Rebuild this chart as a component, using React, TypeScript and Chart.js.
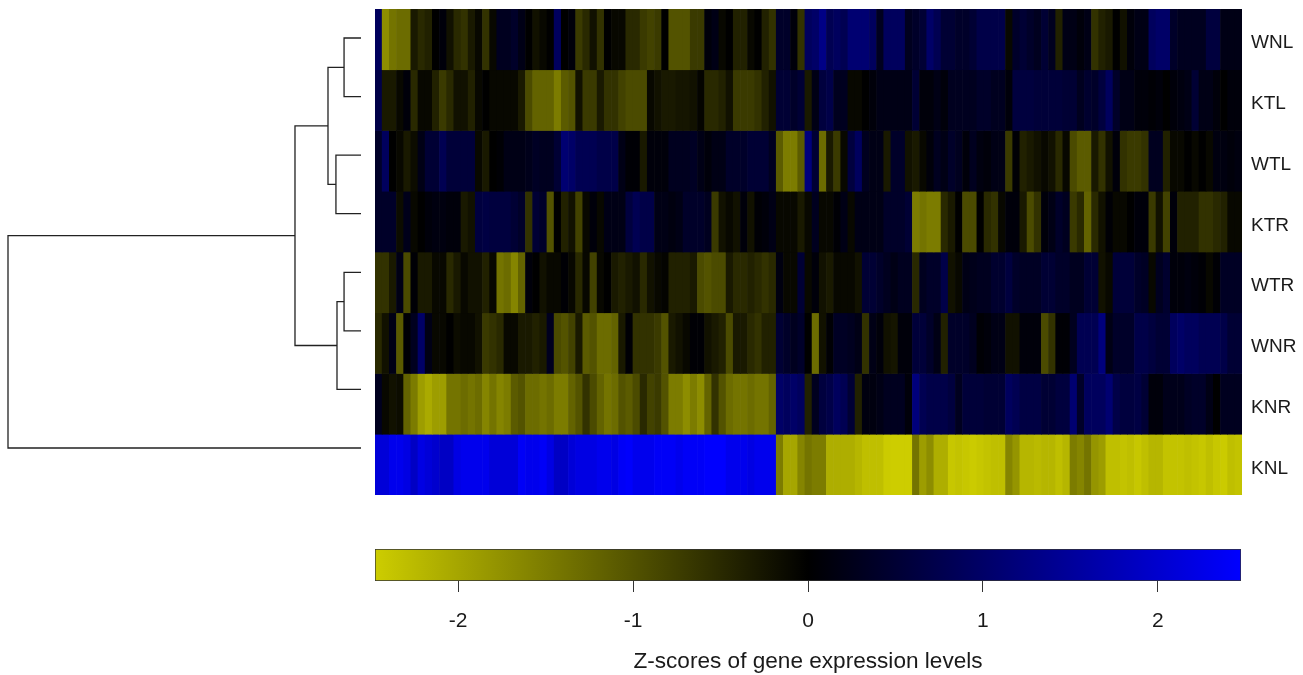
import React, { useEffect, useRef } from "react";
import { Chart, registerables } from "chart.js";

Chart.register(...registerables);

const sampleNames = ["WNL", "KTL", "WTL", "KTR", "WTR", "WNR", "KNR", "KNL"];

const WNL = [
  0.9,-1.7,-1.4,-1.3,-1.3,-0.3,-0.5,-0.4,0,0.1, -0.2,-0.5,-0.6,-0.3,-0.1,-0.6,-0.1,0.3,0.3,0.4,
  0.2,0,-0.2,-0.1,0,0.9,0,0.1,-0.7,-0.5, -0.2,-0.6,0,-0.1,-0.1,-0.5,-0.5,-0.7,-0.8,-0.7,
  0,-1,-1,-1,-0.7,-0.7,0.1,0.2,-0.1,0, -0.4,-0.4,-0.1,0,-0.4,-0.6,
  0.4,0.4,0.1,-0.6,0.9,1,1.3,0.8,0.9,0.8, 1.1,1.1,1.1,0.9,0.3,0.9,0.9,0.9,0.3,0.4,
  0.5,1,0.8,0.5,0.5,0.4,0.4,0.5,0.7,0.7, 0.7,0.7,-0.1,0.4,0.5,0.4,0.3,0.5,0.3,-0.4,
  0.2,0.2,0.1,0.2,-0.6,-0.4,-0.3,0,-0.2,0.1, 0.2,0.2,0.9,1,1,0.4,0.3,0.3,0.3,0.3,
  0.6,0.6,0.2,0.2,0.2,
];
const KTL = [
  0.7,-0.3,-0.3,-0.1,0.1,-0.5,-0.1,-0.1,-0.4,-0.7, -0.5,-0.2,-0.2,-0.4,-0.1,0,-0.1,-0.1,-0.1,-0.1,
  -0.3,-0.9,-1.2,-1.2,-1.2,-1.5,-1.1,-1,-0.2,-0.7, -0.7,-0.3,-0.6,-0.6,-0.8,-0.9,-0.9,-0.9,-0.1,-0.2,
  -0.3,-0.3,-0.25,-0.25,-0.2,-0.05,-0.5,-0.5,-0.4,-0.2, -0.7,-0.7,-0.7,-0.6,-0.4,-0.2,
  0.5,0.5,0.4,0.5,-0.3,0.2,0.6,0.7,0.3,0.3, -0.1,-0.1,0,0.1,0.2,0.2,0.2,0.2,0.2,0.5,
  0.1,0.1,0.2,0.1,0.3,0.3,0.3,0.3,0.4,0.4, 0.3,0.3,0.1,0.6,0.6,0.6,0.55,0.55,0.55,0.55,
  0.5,0.5,0.3,0.45,0.4,0.6,0.9,0.4,0.2,0.2, 0.1,0.1,0.05,0.1,0,0.1,0.15,0.2,0.5,0.2,
  0.2,0.1,0,0.1,0.1,
];
const WTL = [
  0.4,0.9,0,-0.1,-0.3,-0.15,0.2,0.5,0.5,0.8, 0.55,0.55,0.55,0.55,-0.1,-0.3,0,0.05,0.2,0.2,
  0.2,0.25,0.35,0.3,0.3,0.5,1.1,1,0.8,0.8, 0.8,0.7,0.7,0.7,0.2,0.05,0.05,-0.3,0.1,0.1,
  0.1,0.3,0.3,0.3,0.35,0.2,0.1,0.2,0.2,0.4, 0.4,0.4,0.5,0.5,0.5,0.3,
  -1.1,-1.5,-1.5,-1.1,1.2,0.5,-1.3,-0.3,-0.7,-0.1, 0.6,0.9,0.3,0.2,0.2,-0.3,0.4,0.4,-0.2,-0.3,
  -0.1,0.1,0.3,0.2,0.4,0.3,0.1,0.3,0.15,0.1, 0.2,0.2,-0.7,0.05,-0.4,-0.3,-0.2,-0.1,-0.2,-0.5,
  -0.1,-0.9,-1.1,-1.1,-0.3,-0.6,-0.2,0.1,-0.6,-0.7, -0.7,-0.6,0.3,0.3,-0.4,-0.1,-0.1,0,-0.1,0,
  -0.1,0.15,0.15,0.1,0.15,
];
const KTR = [
  0.4,0.4,0.4,-0.15,0.25,-0.1,0,0.1,0.15,0.15, 0.1,0.1,-0.3,-0.2,0.6,0.65,0.6,0.6,0.6,0.5,
  0.4,-0.6,0.5,0.4,-1,0,-0.4,-0.2,-0.8,-0.1, 0.1,-0.1,0.2,0.2,0.2,0.6,0.8,0.7,0.7,0.2,
  0.2,0.15,0.2,0.4,0.4,0.4,0.3,-0.7,-0.2,-0.1, -0.2,0.1,-0.2,0.05,0.1,0.2,
  -0.1,-0.1,-0.1,-0.3,-0.1,0.3,-0.1,-0.1,0.05,0.2, -0.1,0.2,0.2,0.2,0.2,0.4,0.4,0.4,0.5,-1.5,
  -1.4,-1.5,-1.5,-0.5,-0.3,0,-0.9,-0.9,0,-0.5, -0.6,-0.1,0.1,0.1,-0.3,-0.9,-0.6,0.1,0.2,0.4,
  0.3,-0.7,-0.5,-1.2,-0.5,-0.2,0.05,-0.1,-0.1,0, 0.1,0.1,-0.7,-0.2,-0.8,0.1,-0.4,-0.4,-0.4,-0.6,
  -0.6,-0.5,-0.4,-0.1,-0.1,
];
const WTR = [
  -0.6,-0.6,-0.3,0.2,-0.9,0.05,-0.3,-0.3,-0.1,-0.1, -0.5,-0.3,-0.1,-0.2,-0.2,-0.4,-0.1,-1.4,-1.3,-1.6,
  -1.2,0.1,0,-0.2,-0.1,-0.1,0.05,-0.1,-0.5,-0.1, -0.8,-0.1,0,-0.3,-0.4,-0.3,-0.2,-0.5,-0.2,-0.1,
  -0.05,-0.4,-0.4,-0.4,-0.3,-0.9,-1,-0.9,-0.9,-0.3, -0.5,-0.5,-0.4,-0.5,-0.6,-0.5,
  0.15,-0.1,-0.1,0.5,-0.1,0.1,-0.2,-0.3,-0.1,-0.1, -0.1,-0.2,0.5,0.5,0.4,0.3,0.2,0.3,0.3,-0.5,
  0.3,0.4,0.4,0.7,-0.2,-0.1,0.2,0.25,0.3,0.3, 0.45,0.45,0.6,0.4,0.35,0.35,0.35,0.5,0.5,0.4,
  0.4,0.3,0.3,0.5,0.5,-0.2,-0.1,0.55,0.55,0.55, 0.4,0.35,-0.1,0.3,0.45,0.1,0.1,0.15,0.1,0.05,
  -0.1,0.05,0.35,0.35,0.35,
];
const WNR = [
  -0.5,-0.2,0.2,-1.1,0.05,0.3,1,0.2,-0.1,-0.1, 0,-0.15,-0.1,-0.1,-0.2,-0.7,-0.6,-0.5,-0.1,-0.1,
  -0.3,-0.3,-0.4,-0.3,0.3,-0.9,-1,-0.8,-0.3,-1.1, -1,-1.3,-1.3,-1.2,-0.3,0.05,-0.6,-0.6,-0.6,-0.7,
  -1,-0.3,-0.2,-0.1,0.05,0.05,-0.2,-0.3,-0.4,-0.9, -0.3,-0.3,-0.5,-0.6,-0.4,-0.4,
  0.5,0.4,0.3,0.4,0,-1.3,-0.2,0.05,0.35,0.35, 0.3,0.2,-0.6,0.2,0.1,-0.2,-0.25,0.1,0.1,0.55,
  0.55,0.4,0.2,-0.4,0.4,0.4,0.4,0.3,0.05,0.1, 0.2,0.2,-0.2,-0.2,0.1,0.1,0.1,-0.9,-0.6,0.05,
  0.05,0.3,0.8,0.8,0.8,1.2,0.2,0.4,0.4,0.4, 0.7,0.7,0.6,0.5,0.5,0.9,1,0.9,0.9,0.8,
  0.8,0.8,0.7,0.5,0.5,
];
const KNR = [
  0.3,-0.1,-0.2,-0.15,-1.2,-1.5,-1.9,-2.05,-1.9,-1.9, -1.4,-1.4,-1.3,-1.4,-1.3,-1.6,-1.4,-1.6,-1.5,-1.1,
  -1,-1.3,-1.3,-1.4,-1.3,-1.5,-1.5,-1.2,-1,-0.6, -0.9,-1.2,-1.4,-1.3,-1,-1.1,-0.9,-0.5,-0.8,-0.7,
  -1,-1.5,-1.5,-1.7,-1.5,-1.7,-1.2,-0.6,-1,-1.3, -1.4,-1.4,-1.3,-1.4,-1.4,-1.2,
  1,0.9,1,0.9,-0.4,0.3,0.6,0.7,0.9,0.8, 0.5,-0.4,0.15,0.15,0.2,0.3,0.3,0.3,0.1,1.2,
  0.8,0.7,0.7,0.7,0.6,0.3,0.55,0.55,0.55,0.5, 0.5,0.5,0.9,0.8,0.65,0.65,0.65,0.5,0.5,0.6,
  0.6,1.1,0.4,0.9,0.9,0.9,1.1,0.7,0.6,0.6, 0.65,0.5,0.1,0.1,0.25,0.25,0.25,0.35,0.4,0.4,
  0.2,0,0.3,0.3,0.3,
];
const KNL = [
  2.1,2.1,2.3,2.3,2.2,1.9,2.2,2.1,2,1.9, 1.9,2.2,2.3,2.3,2.3,2.3,2.1,2.1,2.1,2.1,
  2.4,2.3,2.3,2.4,2.2,1.9,1.9,2.1,2.2,2.2, 2.2,2.3,2.3,2.2,2.4,2.45,2.3,2.3,2.3,2.4,
  2.4,2.4,2.3,2.4,2.4,2.4,2.47,2.47,2.47,2.3, 2.3,2.3,2.2,2.3,2.3,2.3,
  -1.5,-2,-2,-1.6,-1.4,-1.5,-1.5,-2.1,-2.1,-2.1, -2.1,-2.2,-2.3,-2.3,-2.3,-2.45,-2.47,-2.47,-2.47,-1.4,
  -1.9,-1.7,-2.1,-2.1,-2.4,-2.35,-2.4,-2.45,-2.4,-2.35, -2.3,-2.3,-1.6,-1.8,-2.2,-2.2,-2.25,-2.2,-2.2,-2.3,
  -2.2,-1.5,-1.6,-1.4,-1.8,-1.9,-2.3,-2.3,-2.35,-2.3, -2.4,-2.3,-2.2,-2.2,-2.35,-2.35,-2.35,-2.3,-2.35,-2.4,
  -2.3,-2.4,-2.45,-2.3,-2.35,
];
const sampleRows = [WNL, KTL, WTL, KTR, WTR, WNR, KNR, KNL];

// Dendrogram: leaf order follows sampleNames; heights are relative distances.
const mergeLeft = ["WNL", "WTL", "m1", "WTR", "m4", "m3"];
const mergeRight = ["KTL", "KTR", "m2", "WNR", "KNR", "m5"];
const mergeHeights = [0.048, 0.071, 0.0935, 0.048, 0.068, 0.187];
const rootHeight = 1;

const zLimit = 2.475;
const zTicks = [-2, -1, 0, 1, 2];
const axisTitle = "Z-scores of gene expression levels";

const fontFamily = '"Liberation Sans", Arial, sans-serif';

function zColor(z: number) {
  const t = Math.min(Math.abs(z) / zLimit, 1);
  if (z < 0) {
    const v = Math.round(205 * t);
    return `rgb(${v},${v},0)`;
  }
  return `rgb(0,0,${Math.round(255 * t)})`;
}

function dendrogramLinks() {
  const pos: Record<string, { y: number; h: number }> = {};
  sampleNames.forEach((n, i) => (pos[n] = { y: i, h: 0 }));
  const links: { x: number; y: number }[][] = [];
  const join = (a: { y: number; h: number }, b: { y: number; h: number }, h: number) => {
    links.push([
      { x: a.h, y: a.y },
      { x: h, y: a.y },
      { x: h, y: b.y },
      { x: b.h, y: b.y },
    ]);
    return { y: (a.y + b.y) / 2, h };
  };
  mergeHeights.forEach((h, i) => {
    pos["m" + (i + 1)] = join(pos[mergeLeft[i]], pos[mergeRight[i]], h);
  });
  join(pos["m6"], pos["KNL"], rootHeight);
  return links;
}

const canvasStyle = (left: number, top: number, width: number, height: number): React.CSSProperties => ({
  position: "absolute",
  left,
  top,
  width,
  height,
  filter: "blur(0.5px)",
});

export default function App() {
  const heatRef = useRef<HTMLCanvasElement>(null);
  const treeRef = useRef<HTMLCanvasElement>(null);
  const barRef = useRef<HTMLCanvasElement>(null);

  useEffect(() => {
    const heat = new Chart(heatRef.current!, {
      type: "bar",
      data: {
        labels: WNL.map((_, i) => i),
        datasets: sampleRows.map((row, r) => ({
          label: sampleNames[r],
          data: row.map((z, i) => ({ x: i, y: 1, z })),
          backgroundColor: row.map(zColor),
          borderWidth: 0,
          categoryPercentage: 1,
          barPercentage: 1,
          stack: "rows",
        })),
      } as any,
      options: {
        animation: false,
        responsive: false,
        parsing: false,
        layout: { padding: 0 },
        plugins: { legend: { display: false }, tooltip: { enabled: false } },
        scales: {
          x: { type: "category", display: false, stacked: true },
          y: {
            type: "linear",
            position: "right",
            stacked: true,
            reverse: true,
            min: 0,
            max: sampleNames.length,
            grid: { display: false, drawTicks: false },
            border: { display: false },
            afterFit: (s: any) => {
              s.width = 58;
              s.paddingTop = 0;
              s.paddingBottom = 0;
            },
            afterBuildTicks: (s: any) => {
              s.ticks = sampleNames.map((_, i) => ({ value: i + 0.56 }));
            },
            ticks: {
              padding: 9,
              color: "#1a1a1a",
              font: { family: fontFamily, size: 19 },
              callback: (_: any, i: number) => sampleNames[i],
            },
          },
        },
      } as any,
    });

    const tree = new Chart(treeRef.current!, {
      type: "scatter",
      data: {
        datasets: dendrogramLinks().map((pts) => ({
          data: pts,
          showLine: true,
          borderColor: "#222222",
          borderWidth: 1.3,
          pointRadius: 0,
          clip: false,
        })),
      } as any,
      options: {
        animation: false,
        responsive: false,
        layout: { padding: 4 },
        plugins: { legend: { display: false }, tooltip: { enabled: false } },
        scales: {
          x: { type: "linear", display: false, reverse: true, min: 0, max: rootHeight },
          y: { type: "linear", display: false, reverse: true, min: 0, max: sampleNames.length - 1 },
        },
      } as any,
    });

    const bar = new Chart(barRef.current!, {
      type: "bar",
      data: {
        labels: ["z"],
        datasets: [
          {
            data: [[-zLimit, zLimit]],
            categoryPercentage: 1,
            barPercentage: 1,
            borderWidth: 1,
            borderColor: "#333333",
            borderSkipped: false,
            backgroundColor: (ctx: any) => {
              const a = ctx.chart.chartArea;
              if (!a) return "#000";
              const g = ctx.chart.ctx.createLinearGradient(a.left, 0, a.right, 0);
              g.addColorStop(0, zColor(-zLimit));
              g.addColorStop(0.5, zColor(0));
              g.addColorStop(1, zColor(zLimit));
              return g;
            },
          },
        ],
      } as any,
      options: {
        indexAxis: "y",
        animation: false,
        responsive: false,
        layout: { padding: { left: 15, right: 19, top: 9, bottom: 0 } },
        plugins: { legend: { display: false }, tooltip: { enabled: false } },
        scales: {
          y: { display: false },
          x: {
            type: "linear",
            min: -zLimit,
            max: zLimit,
            position: "bottom",
            afterFit: (s: any) => {
              s.height = 94;
            },
            afterBuildTicks: (s: any) => {
              s.ticks = zTicks.map((value) => ({ value }));
            },
            border: { display: false },
            grid: { drawOnChartArea: false, drawTicks: true, tickLength: 11, color: "#333333", lineWidth: 1 },
            ticks: {
              padding: 17,
              maxRotation: 0,
              color: "#1a1a1a",
              font: { family: fontFamily, size: 21 },
            },
            title: {
              display: true,
              text: axisTitle,
              color: "#1a1a1a",
              font: { family: fontFamily, size: 22.6 },
              padding: { top: 14, bottom: 0 },
            },
          },
        },
      } as any,
    });

    return () => {
      heat.destroy();
      tree.destroy();
      bar.destroy();
    };
  }, []);

  return (
    <div style={{ position: "fixed", left: 0, top: 0, width: 1303, height: 675, background: "#fff", overflow: "hidden" }}>
      <canvas ref={treeRef} width={361} height={418} style={canvasStyle(4, 34, 361, 418)} />
      <canvas ref={heatRef} width={925} height={486} style={canvasStyle(375, 9, 925, 486)} />
      <canvas ref={barRef} width={900} height={135} style={canvasStyle(360, 540, 900, 135)} />
    </div>
  );
}
